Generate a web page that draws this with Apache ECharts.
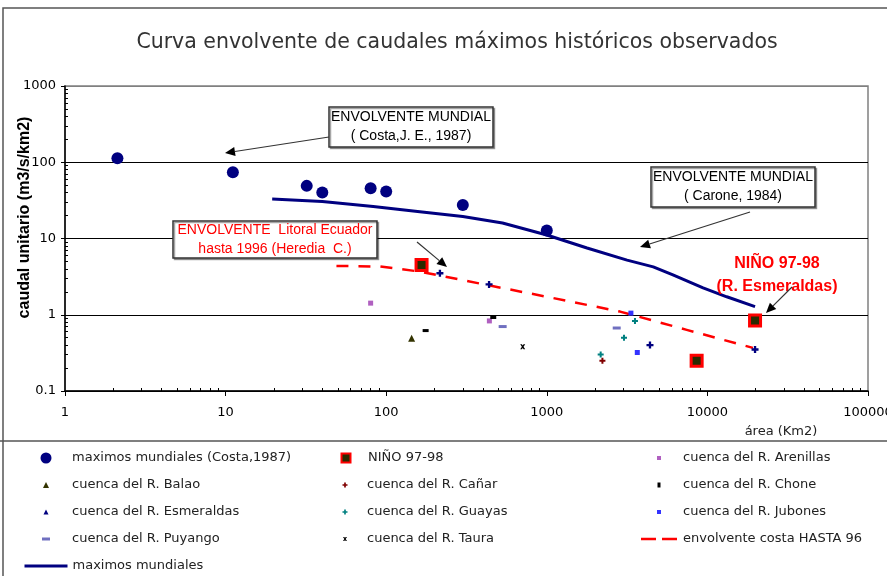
<!DOCTYPE html>
<html><head><meta charset="utf-8">
<script src="https://cdn.jsdelivr.net/npm/echarts@6/dist/echarts.min.js"></script>
<style>html,body{margin:0;padding:0;background:#fff}#c{width:887px;height:576px}</style>
</head><body><div id="c"></div>
<script>
// ---------- data ----------
const chartTitle = 'Curva envolvente de caudales máximos históricos observados';
const xTickValues = [1, 10, 100, 1000, 10000, 100000];
const yTickValues = [0.1, 1, 10, 100, 1000];
const xMinorTicks = [2,3,4,5,6,7,8,9,20,30,40,50,60,70,80,90,200,300,400,500,600,700,800,900,2000,3000,4000,5000,6000,7000,8000,9000,20000,30000,40000,50000,60000,70000,80000,90000];
const yMinorTicks = [0.2,0.3,0.4,0.5,0.6,0.7,0.8,0.9,2,3,4,5,6,7,8,9,20,30,40,50,60,70,80,90,200,300,400,500,600,700,800,900];

const costaX = [2.12, 11.1, 32, 40, 80, 100, 300, 1000];
const costaY = [113, 74, 49, 40, 45.6, 41.2, 27.5, 12.7];

const ninoX = [166, 19800, 8570];
const ninoY = [4.5, 0.84, 0.25];

const arenillasX = [80, 439];
const arenillasY = [1.42, 0.83];
const balaoX = [144];
const balaoY = [0.49];
const canarX = [2220];
const canarY = [0.25];
const choneX = [176, 464];
const choneY = [0.62, 0.92];
const esmeraldasX = [216, 437, 4390, 19800];
const esmeraldasY = [3.5, 2.5, 0.40, 0.35];
const guayasX = [3540, 3025, 2165];
const guayasY = [0.83, 0.50, 0.30];
const jubonesX = [3340, 3660];
const jubonesY = [1.05, 0.32];
const puyangoX = [531, 2725];
const puyangoY = [0.70, 0.67];
const tauraX = [708];
const tauraY = [0.38];

const costaLineX = [49, 92, 162, 423, 1090, 2860, 7430, 19200];
const costaLineY = [4.37, 4.29, 3.68, 2.46, 1.66, 1.10, 0.634, 0.368];

const mundialX = [19.5, 40, 83, 162, 300, 530, 1000, 1780, 3160, 4600, 6100, 9400, 13200, 19800];
const mundialY = [33, 30.5, 26.2, 22.5, 19.4, 16, 11.1, 7.5, 5.2, 4.25, 3.33, 2.25, 1.72, 1.28];

// ---------- build ----------
const zip = (xs, ys) => xs.map((x, i) => [x, ys[i]]);
const PLUS = 'path://M2,0H4V2H6V4H4V6H2V4H0V2H2Z';
const CROSS = 'path://M0,0L2,0L3,1.5L4,0L6,0L4,3L6,6L4,6L3,4.5L2,6L0,6L2,3Z';
const DASH = 'path://M0,0H8V3H0Z';
const TRI = 'path://M3,0L6,6L0,6Z';
const LINE_SOLID = 'path://M0,0H42V3H0Z';
const LINE_DASH = 'path://M0,0H15V2.5H0ZM21,0H36V2.5H21Z';

const scatterDefs = [
  {name:'maximos mundiales (Costa,1987)', x:costaX, y:costaY, symbol:'circle', size:12, color:'#000080'},
  {name:'NIÑO 97-98', x:ninoX, y:ninoY, symbol:'rect', size:11, color:'#2a2a00', border:'#ff0000', bw:3},
  {name:'cuenca del R. Arenillas', x:arenillasX, y:arenillasY, symbol:'rect', size:5, color:'#b060c0'},
  {name:'cuenca del R. Balao', x:balaoX, y:balaoY, symbol:'triangle', size:7, color:'#333300'},
  {name:'cuenca del R. Cañar', x:canarX, y:canarY, symbol:PLUS, size:6, color:'#800000'},
  {name:'cuenca del R. Chone', x:choneX, y:choneY, symbol:'rect', size:[6,3], color:'#000000'},
  {name:'cuenca del R. Esmeraldas', x:esmeraldasX, y:esmeraldasY, symbol:PLUS, size:7, color:'#000080'},
  {name:'cuenca del R. Guayas', x:guayasX, y:guayasY, symbol:PLUS, size:6, color:'#008080'},
  {name:'cuenca del R. Jubones', x:jubonesX, y:jubonesY, symbol:'rect', size:5, color:'#3333ff'},
  {name:'cuenca del R. Puyango', x:puyangoX, y:puyangoY, symbol:DASH, size:[8,3], color:'#7070c0'},
  {name:'cuenca del R. Taura', x:tauraX, y:tauraY, symbol:CROSS, size:5, color:'#000000'}
];

const series = [
  {name:'envolvente costa HASTA 96', type:'line', data:zip(costaLineX, costaLineY), symbol:'none',
   lineStyle:{color:'#ff0000', width:2.5, type:[12,10]}, itemStyle:{color:'#ff0000'}, z:2},
  {name:'maximos mundiales', type:'line', data:zip(mundialX, mundialY), symbol:'none',
   lineStyle:{color:'#000080', width:3}, itemStyle:{color:'#000080'}, z:2}
];
scatterDefs.forEach(d => {
  series.push({
    name:d.name, type:'scatter', data:zip(d.x, d.y), symbol:d.symbol, symbolSize:d.size, z:3,
    itemStyle:{color:d.color, borderColor:d.border || d.color, borderWidth:d.bw || 0, opacity:1}
  });
});

// legend layout (3 columns x 5 rows): icon centre x, text start x
const rowY = [458, 485, 512, 539, 566];
const cols = [{icon:46, text:72}, {icon:345, text:367}, {icon:659, text:683}];
// [name, column, row, icon width, icon height, icon]
const legendItems = [
  ['maximos mundiales (Costa,1987)', 0, 0, 11, 11, 'circle'],
  ['NIÑO 97-98', 1, 0, 9, 9, 'rect'],
  ['cuenca del R. Arenillas', 2, 0, 4, 4, 'rect'],
  ['cuenca del R. Balao', 0, 1, 6, 6, TRI],
  ['cuenca del R. Cañar', 1, 1, 5, 5, PLUS],
  ['cuenca del R. Chone', 2, 1, 3, 5, 'rect'],
  ['cuenca del R. Esmeraldas', 0, 2, 5, 5, TRI],
  ['cuenca del R. Guayas', 1, 2, 5, 5, PLUS],
  ['cuenca del R. Jubones', 2, 2, 4, 4, 'rect'],
  ['cuenca del R. Puyango', 0, 3, 8, 3, 'rect'],
  ['cuenca del R. Taura', 1, 3, 4, 4, CROSS],
  ['envolvente costa HASTA 96', 2, 3, 36, 2.5, LINE_DASH],
  ['maximos mundiales', 0, 4, 43, 3, LINE_SOLID]
];
const legends = legendItems.map(([name, c, r, w, h, icon]) => {
  const left = cols[c].icon - w / 2;
  const pad = Math.max(0, cols[c].text - (left + w + 5));
  return {
    data:[{name, icon}],
    left, top:rowY[r] - 8, itemWidth:w, itemHeight:h, padding:0,
    selectedMode:false, symbolKeepAspect:false,
    textStyle:{fontFamily:'DejaVu Sans', fontSize:13, color:'#222', lineHeight:16, padding:[0,0,0,pad]}
  };
});

// annotations
function arrow(x1, y1, x2, y2) {
  const a = Math.atan2(y2 - y1, x2 - x1), L = 10, W = 4.5;
  const bx = x2 - L * Math.cos(a), by = y2 - L * Math.sin(a);
  const px = -Math.sin(a) * W, py = Math.cos(a) * W;
  return [
    {type:'line', z:100, shape:{x1, y1, x2:bx, y2:by}, style:{stroke:'#333', lineWidth:1.2}},
    {type:'polygon', z:100, shape:{points:[[x2, y2], [bx + px, by + py], [bx - px, by - py]]}, style:{fill:'#000'}}
  ];
}
function box(x, y, w, h, lines, color) {
  return [
    {type:'rect', z:100, shape:{x, y, width:w, height:h}, style:{fill:'#fff', stroke:'#333', lineWidth:1.5, shadowColor:'rgba(0,0,0,0.35)', shadowOffsetX:1.5, shadowOffsetY:1.5}},
    {type:'text', z:101, x:x + w / 2, y:y + h / 2, style:{text:lines.join('\n'), fill:color, font:'14px "Liberation Sans"', align:'center', verticalAlign:'middle', lineHeight:19}}
  ];
}

const graphic = [
  {type:'rect', z:90, shape:{x:3, y:8, width:900, height:600}, style:{fill:'none', stroke:'#555', lineWidth:1.5}},
  {type:'line', z:90, shape:{x1:0, y1:441, x2:887, y2:441}, style:{stroke:'#555', lineWidth:1.5}},
  {type:'text', z:100, x:781, y:432, style:{text:'área (Km2)', fill:'#222', font:'13px "DejaVu Sans"', align:'center', verticalAlign:'middle'}},
  ...box(329, 107, 164, 40, ['ENVOLVENTE MUNDIAL', '( Costa,J. E., 1987)'], '#000'),
  ...box(651, 167, 164, 40, ['ENVOLVENTE MUNDIAL', '( Carone, 1984)'], '#000'),
  ...box(173, 221, 204, 37, ['ENVOLVENTE  Litoral Ecuador', 'hasta 1996 (Heredia  C.)'], '#ff0000'),
  {type:'text', z:100, x:777, y:275.5, style:{text:'NIÑO 97-98\n(R. Esmeraldas)', fill:'#ff0000', font:'bold 16px "Liberation Sans"', align:'center', verticalAlign:'middle', lineHeight:23}},
  ...arrow(329, 137, 225, 153),
  ...arrow(750, 212, 640, 247),
  ...arrow(417, 242, 447, 267),
  ...arrow(792, 287, 766, 313)
];

const axisFont = {fontFamily:'DejaVu Sans', fontSize:13, color:'#000'};
const option = {
  animation:false,
  backgroundColor:'#fff',
  title:{text:chartTitle, left:457, top:32, textAlign:'center', padding:0,
    textStyle:{fontFamily:'DejaVu Sans', fontSize:20.5, fontWeight:'normal', color:'#333'}},
  legend:legends,
  grid:{left:65, right:19, top:86, bottom:185, containLabel:false, outerBoundsMode:'none',
    show:true, borderColor:'#808080', borderWidth:1.5, backgroundColor:'transparent'},
  xAxis:[
    {type:'log', logBase:10, min:1, max:100000, position:'bottom',
     axisLine:{lineStyle:{color:'#000', width:1.5}},
     axisTick:{show:true, inside:false, length:5, lineStyle:{color:'#000'}},
     axisLabel:{...axisFont, margin:15, formatter:v => String(v), customValues:xTickValues},
     splitLine:{show:false}, minorTick:{show:false}},
    {type:'log', logBase:10, min:1, max:100000, position:'bottom', gridIndex:0,
     axisLine:{show:false}, axisLabel:{show:false}, splitLine:{show:false},
     axisTick:{show:true, inside:true, length:3, customValues:xMinorTicks, lineStyle:{color:'#000'}}}
  ],
  yAxis:[
    {type:'log', logBase:10, min:0.1, max:1000,
     name:'caudal unitario (m3/s/km2)', nameLocation:'middle', nameGap:32, nameMoveOverlap:false,
     nameTextStyle:{fontFamily:'Liberation Sans', fontSize:16, fontWeight:'bold', color:'#000', padding:[0,0,0,42]},
     axisLine:{show:true, lineStyle:{color:'#000', width:1.5}},
     axisTick:{show:true, inside:false, length:4, lineStyle:{color:'#000'}},
     axisLabel:{...axisFont, margin:9, formatter:v => String(v), customValues:yTickValues},
     splitLine:{show:true, lineStyle:{color:['#000','#000','#000','#000','#808080'], width:1.2}}},
    {type:'log', logBase:10, min:0.1, max:1000, position:'left', gridIndex:0,
     axisLine:{show:false}, axisLabel:{show:false}, splitLine:{show:false},
     axisTick:{show:true, inside:true, length:3, customValues:yMinorTicks, lineStyle:{color:'#000'}}}
  ],
  series:series,
  graphic:graphic
};
const chart = echarts.init(document.getElementById('c'), null, {renderer:'canvas'});
chart.setOption(option);
</script></body></html>
